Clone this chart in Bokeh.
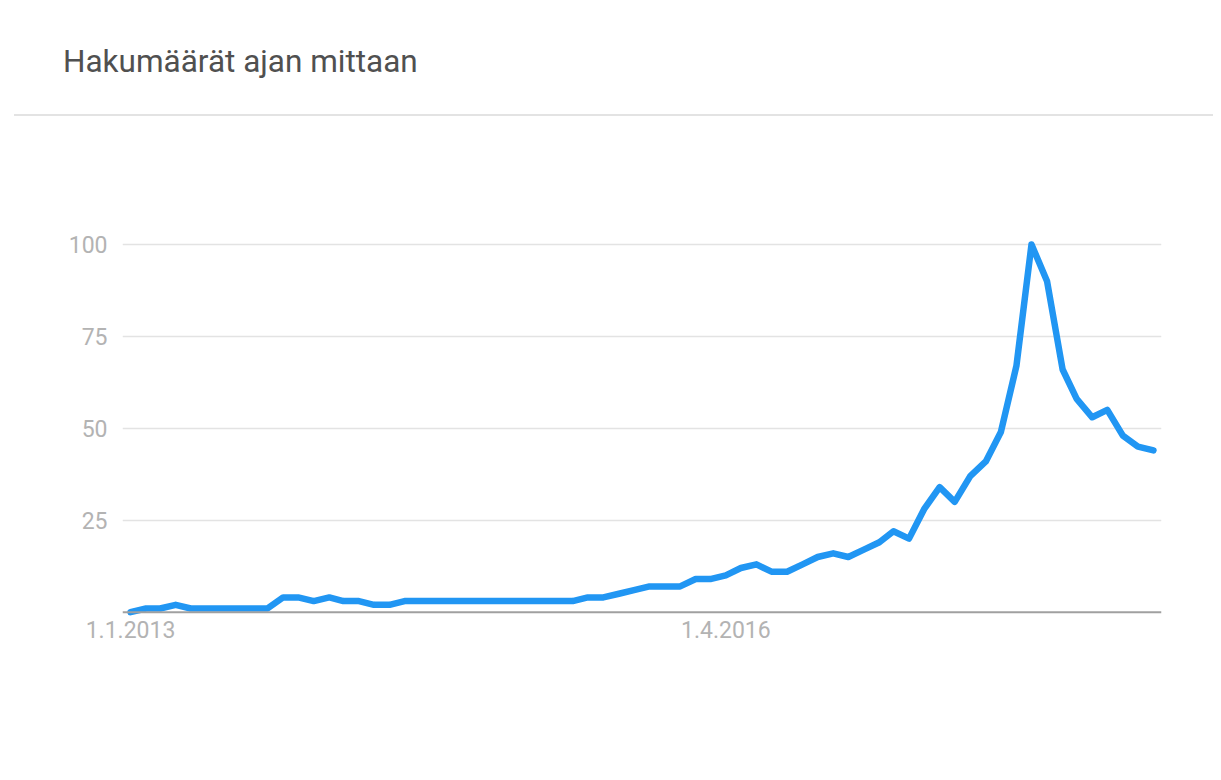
import pandas as pd
from bokeh.plotting import figure
from bokeh.models import Range1d, FixedTicker, Span, Title, InlineStyleSheet
from bokeh.embed import file_html
from bokeh.resources import INLINE

title_text = "Hakumäärät ajan mittaan"
start_month = "2013-01-01"
interest = [0, 1, 1, 2, 1, 1, 1, 1, 1, 1,
            4, 4, 3, 4, 3, 3, 2, 2, 3, 3,
            3, 3, 3, 3, 3, 3, 3, 3, 3, 3,
            4, 4, 5, 6, 7, 7, 7, 9, 9, 10,
            12, 13, 11, 11, 13, 15, 16, 15, 17, 19,
            22, 20, 28, 34, 30, 37, 41, 49, 67, 100,
            90, 66, 58, 53, 55, 48, 45, 44]
months = pd.date_range(start_month, periods=len(interest), freq="MS")
y_ticks = [25, 50, 75, 100]
x_tick_dates = ["2013-01-01", "2016-04-01"]
x_tick_labels = ["1.1.2013", "1.4.2016"]

FONT = "Roboto"
BLUE = "#2196F3"
LABEL_GREY = "#b3b3b3"
SEP_GREY = "#e3e3e3"

# header separator that runs across the whole card (drawn by CSS on the plot host)
card_css = InlineStyleSheet(css="""
:host { position: relative; }
:host::after {
  content: ""; position: absolute; left: 14px; right: 0; top: 114px;
  height: 1.5px; background: #e3e3e3; z-index: 10; pointer-events: none;
}
""")

pad = pd.Timedelta(days=16)
p = figure(frame_width=1039, frame_height=504,
           min_border_left=122, min_border_right=52, min_border_top=115, min_border_bottom=145,
           x_axis_type="datetime",
           x_range=Range1d(months[0] - pad, months[-1] + pad),
           y_range=Range1d(-2, 135.08),
           output_backend="svg", toolbar_location=None,
           stylesheets=[card_css])
p.outline_line_color = None

p.add_layout(Title(text=title_text, align="left", offset=-59.5, standoff=71,
                   text_font=FONT, text_font_size="31.5px", text_font_style="normal",
                   text_color="#505050"), "above")

p.ygrid.ticker = FixedTicker(ticks=y_ticks)
p.ygrid.grid_line_color = SEP_GREY
p.ygrid.grid_line_width = 1.5
p.xgrid.visible = False

p.yaxis.ticker = FixedTicker(ticks=y_ticks)
p.yaxis.axis_line_color = None
p.yaxis.major_tick_line_color = None
p.yaxis.minor_tick_line_color = None
p.yaxis.major_tick_out = 0
p.yaxis.major_label_standoff = 15
p.yaxis.major_label_text_font = FONT
p.yaxis.major_label_text_font_size = "23px"
p.yaxis.major_label_text_color = LABEL_GREY

tick_ts = [pd.Timestamp(d).value / 1e6 for d in x_tick_dates]
xa = p.below[0]
xa.ticker = FixedTicker(ticks=tick_ts)
xa.major_label_overrides = {t: lab for t, lab in zip(tick_ts, x_tick_labels)}
xa.axis_line_color = None
xa.major_tick_line_color = None
xa.minor_tick_line_color = None
xa.major_tick_out = 0
xa.major_label_standoff = 1
xa.major_label_text_font = FONT
xa.major_label_text_font_size = "23px"
xa.major_label_text_color = LABEL_GREY

p.add_layout(Span(location=0, dimension="width", line_color="#a0a0a0", line_width=2))
p.line(months, interest, line_color=BLUE, line_width=6.5, line_join="round", line_cap="round")

open("out.html", "w").write(file_html(p, INLINE))
